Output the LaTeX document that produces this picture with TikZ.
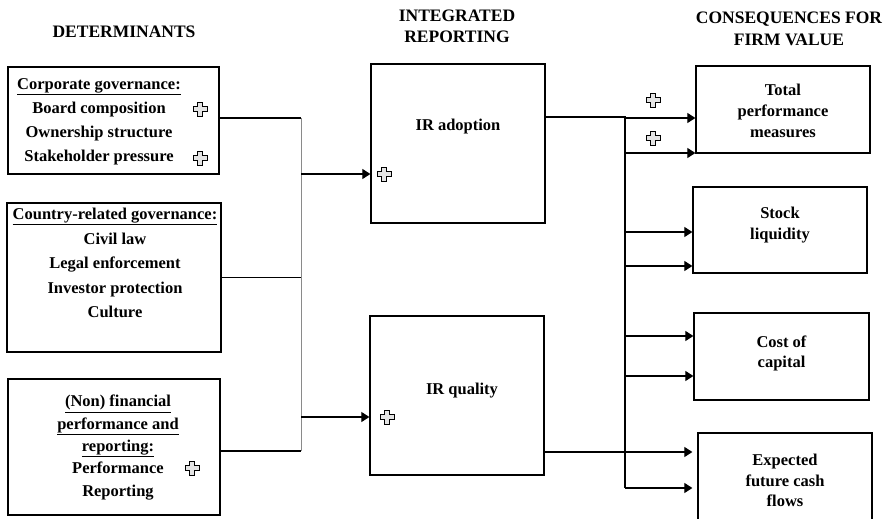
\documentclass[tikz,border=0pt]{standalone}
\usepackage{fontspec}
\setmainfont{Liberation Serif}
\usepackage{xcolor}
\usepackage{tikz}
\usetikzlibrary{arrows.meta,calc,positioning}
\definecolor{plusgray}{HTML}{E4E4E4}
\definecolor{busgray}{HTML}{8A8A8A}

\tikzset{plussign/.pic={
    \draw[line width=0.8pt,fill=plusgray] (-2.5,-7) -- (2.5,-7) -- (2.5,-2.5) -- (7,-2.5)
      -- (7,2.5) -- (2.5,2.5) -- (2.5,7) -- (-2.5,7) -- (-2.5,2.5) -- (-7,2.5)
      -- (-7,-2.5) -- (-2.5,-2.5) -- cycle;}}

\begin{document}
\begin{tikzpicture}[x=1pt,y=-1pt,
    box/.style={draw,line width=1.3pt,inner sep=0pt},
    txt/.style={align=center,inner sep=0pt,font=\fontsize{16.5}{24}\selectfont\bfseries},
    head/.style={align=center,inner sep=0pt,font=\fontsize{17.5}{21.5}\selectfont\bfseries},
    line/.style={line width=1.2pt},
    arr/.style={line width=1.2pt,-{Triangle[length=8pt,width=10pt]}}]
  \useasboundingbox (0,0) rectangle (891,519);
  \clip (0,0) rectangle (891,519);

  % column headings
  \node[head] (hdet) at (124,32) {DETERMINANTS};
  \node[head] (hir) at (457,26.5) {INTEGRATED\\REPORTING};
  \node[head] (hcons) at (789,29) {CONSEQUENCES FOR\\FIRM VALUE};

  % determinants
  \node[box,minimum width=211pt,minimum height=107pt] (corp) at (113.5,120.5) {};
  \node[txt] (corptext) at ($(corp.center)+(-14.5,1)$) {\underline{Corporate governance:}\\
    Board composition\\Ownership structure\\Stakeholder pressure};
  \node[box,minimum width=214pt,minimum height=149pt] (country) at (114,277.5) {};
  \node[txt,font=\fontsize{16.5}{24.5}\selectfont\bfseries] (countrytext) at ($(country.center)+(1,-14.5)$)
    {\underline{Country-related governance:}\\Civil law\\Legal enforcement\\Investor protection\\Culture};
  \node[box,minimum width=212pt,minimum height=136pt] (nonfin) at (114,447) {};
  \node[txt,font=\fontsize{16.5}{22.3}\selectfont\bfseries] (nonfintext) at ($(nonfin.center)+(4,0.5)$)
    {\underline{(Non) financial}\\\underline{performance and}\\\underline{reporting:}\\Performance\\Reporting};

  % integrated reporting
  \node[box,minimum width=174pt,minimum height=159pt] (adoption) at (458,143.5) {};
  \node[txt] (adoptiontext) at ($(adoption.center)+(0,-16.5)$) {IR adoption};
  \node[box,minimum width=174pt,minimum height=159pt] (quality) at (457,395.5) {};
  \node[txt] (qualitytext) at ($(quality.center)+(5,-4.5)$) {IR quality};

  % consequences
  \node[box,minimum width=174pt,minimum height=87pt] (total) at (783,109.5) {};
  \node[txt,font=\fontsize{16.5}{21}\selectfont\bfseries] (totaltext) at ($(total.center)+(0,1.5)$)
    {Total\\performance\\measures};
  \node[box,minimum width=174pt,minimum height=86pt] (stock) at (780,230) {};
  \node[txt,font=\fontsize{16.5}{21}\selectfont\bfseries] (stocktext) at ($(stock.center)+(0,-4.5)$)
    {Stock\\liquidity};
  \node[box,minimum width=175pt,minimum height=87pt] (cost) at (781.5,356.5) {};
  \node[txt,font=\fontsize{16.5}{20}\selectfont\bfseries] (costtext) at ($(cost.center)+(0,-3.5)$)
    {Cost of\\capital};
  \node[box,minimum width=174pt,minimum height=90pt] (expected) at (785,478) {};
  \node[txt,font=\fontsize{16.5}{20.5}\selectfont\bfseries] (expectedtext) at ($(expected.center)+(0,2.5)$)
    {Expected\\future cash\\flows};

  % left bus
  \coordinate (ltop) at (301,118);
  \coordinate (lbot) at (301,451);
  \draw[line] (corp.east |- ltop) -- (ltop);
  \draw[line,busgray,line width=1pt] (ltop) -- (lbot);
  \draw[line] (country.east) -- (country.east -| ltop);
  \draw[line] (nonfin.east |- lbot) -- (lbot);
  \draw[arr] (ltop |- 0,174) -- (adoption.west |- 0,174);
  \draw[arr] (ltop |- 0,417) -- (quality.west |- 0,417);

  % right bus
  \coordinate (rtop) at (625,117);
  \coordinate (rbot) at (625,488);
  \draw[line] (adoption.east |- rtop) -- (rtop) -- (rbot);
  \foreach \tgt/\yy in {total/118,total/153,stock/232,stock/266,cost/336,cost/376}
    \draw[arr] (rtop |- 0,\yy) -- (\tgt.west |- 0,\yy);
  \draw[arr,shorten >=5pt] (rtop |- 0,488) -- (expected.west |- 0,488);
  \draw[arr,shorten >=5pt] (quality.east |- 0,452) -- (expected.west |- 0,452);

  % signs
  \pic at (200,109) {plussign};
  \pic at (200,158) {plussign};
  \pic at (192,468) {plussign};
  \pic at (384,174) {plussign};
  \pic at (387,417) {plussign};
  \pic at (653,100) {plussign};
  \pic at (653,138) {plussign};
\end{tikzpicture}
\end{document}
